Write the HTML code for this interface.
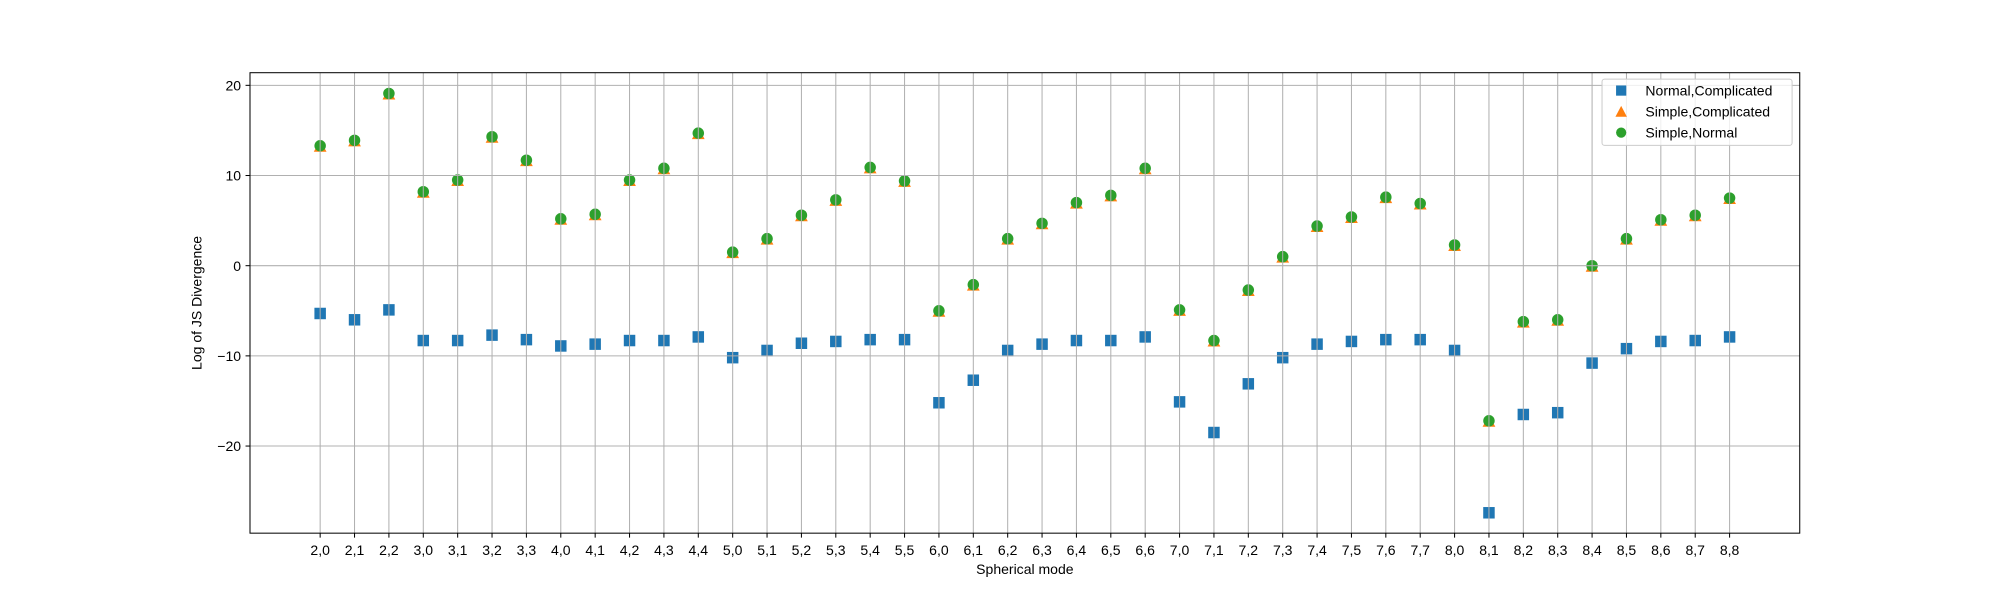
<!DOCTYPE html>
<html><head><meta charset="utf-8"><style>
html,body{margin:0;padding:0;background:#fff;}
svg{display:block;font-family:"Liberation Sans","DejaVu Sans",sans-serif;}
</style></head><body>
<svg id="chart" width="2000" height="600" viewBox="0 0 1568 470.4" preserveAspectRatio="none"></svg>
<script>
const categories=["2,0","2,1","2,2","3,0","3,1","3,2","3,3","4,0","4,1","4,2","4,3","4,4","5,0","5,1","5,2","5,3","5,4","5,5","6,0","6,1","6,2","6,3","6,4","6,5","6,6","7,0","7,1","7,2","7,3","7,4","7,5","7,6","7,7","8,0","8,1","8,2","8,3","8,4","8,5","8,6","8,7","8,8"];
const normalComplicated=[-5.3,-6.0,-4.9,-8.3,-8.3,-7.7,-8.2,-8.9,-8.7,-8.3,-8.3,-7.9,-10.2,-9.4,-8.6,-8.4,-8.2,-8.2,-15.2,-12.7,-9.4,-8.7,-8.3,-8.3,-7.9,-15.1,-18.5,-13.1,-10.2,-8.7,-8.4,-8.2,-8.2,-9.4,-27.4,-16.5,-16.3,-10.8,-9.2,-8.4,-8.3,-7.9];
const simpleComplicated=[13.2,13.8,19.0,8.1,9.4,14.2,11.6,5.1,5.6,9.4,10.7,14.6,1.4,2.9,5.5,7.2,10.8,9.3,-5.1,-2.2,2.9,4.6,6.9,7.7,10.7,-5.0,-8.4,-2.8,0.9,4.3,5.3,7.5,6.8,2.2,-17.3,-6.3,-6.1,-0.1,2.9,5.0,5.5,7.4];
const simpleNormal=[13.3,13.9,19.1,8.2,9.5,14.3,11.7,5.2,5.7,9.5,10.8,14.7,1.5,3.0,5.6,7.3,10.9,9.4,-5.0,-2.1,3.0,4.7,7.0,7.8,10.8,-4.9,-8.3,-2.7,1.0,4.4,5.4,7.6,6.9,2.3,-17.2,-6.2,-6.0,0.0,3.0,5.1,5.6,7.5];
const yTicks=[20,10,0,-10,-20];
const yTickLabels=["20","10","0","\u221210","\u221220"];

const NS="http://www.w3.org/2000/svg";
const svg=document.getElementById('chart');
const L=196,R=1411,T=57,B=418;
const yMin=-29.66,yMax=21.4;
const x0=251,x1=1356;
function xs(i){return x0+(x1-x0)*i/(categories.length-1);}
function ys(v){return B-(v-yMin)/(yMax-yMin)*(B-T);}
function el(tag,attrs,parent){const e=document.createElementNS(NS,tag);for(const k in attrs)e.setAttribute(k,attrs[k]);(parent||svg).appendChild(e);return e;}

const gBlue=el('g',{});


normalComplicated.forEach((v,i)=>{
  const r=el('rect',{x:xs(i)-4.5,y:ys(v)-4.5,width:9,height:9,fill:'#1f77b4'},gBlue);
  
  
});
const gOr=el('g',{});


simpleComplicated.forEach((v,i)=>{
  const cx=xs(i),cy=ys(v);
  const p=el('polygon',{points:`${cx},${cy-5} ${cx-5},${cy+4} ${cx+5},${cy+4}`,fill:'#ff7f0e'},gOr);
  
  
});
const gGr=el('g',{});


simpleNormal.forEach((v,i)=>{
  const c=el('circle',{cx:xs(i),cy:ys(v),r:4.5,fill:'#2ca02c'},gGr);
  
  
});

const grid=el('g',{stroke:'#b0b0b0','stroke-width':0.8});


categories.forEach((c,i)=>{el('line',{x1:xs(i),x2:xs(i),y1:T,y2:B},grid);});
yTicks.forEach(v=>{el('line',{x1:L,x2:R,y1:ys(v),y2:ys(v)},grid);});

const frame=el('rect',{x:L,y:T,width:R-L,height:B-T,fill:'none',stroke:'#000','stroke-width':0.8});



const xt=el('g',{});


categories.forEach((c,i)=>{
  el('line',{x1:xs(i),x2:xs(i),y1:B,y2:B+3.5,stroke:'#000','stroke-width':0.8},xt);
  const t=el('text',{x:xs(i),y:B+17,'text-anchor':'middle','font-size':11,fill:'#000'},xt);
  t.textContent=c;
  
  
});
const xl=el('text',{x:(L+R)/2,y:450,'text-anchor':'middle','font-size':11},svg);
xl.textContent='Spherical mode';



const yt=el('g',{});


yTicks.forEach((v,i)=>{
  el('line',{x1:L-3.5,x2:L,y1:ys(v),y2:ys(v),stroke:'#000','stroke-width':0.8},yt);
  const t=el('text',{x:L-7,y:ys(v)+4,'text-anchor':'end','font-size':11},yt);
  t.textContent=yTickLabels[i];
  
  
});
const yl=el('text',{x:158,y:(T+B)/2,'text-anchor':'middle','font-size':11,transform:`rotate(-90 158 ${(T+B)/2})`},svg);
yl.textContent='Log of JS Divergence';



const lg=el('g',{});


el('rect',{x:1256,y:62,width:149,height:52,rx:2,fill:'#fff','fill-opacity':0.8,stroke:'#ccc','stroke-width':0.8},lg);
const entries=[['Normal,Complicated','sq','#1f77b4'],['Simple,Complicated','tri','#ff7f0e'],['Simple,Normal','ci','#2ca02c']];
entries.forEach((e,i)=>{
  const cy=71+i*16.5,cx=1271;
  const g=el('g',{},lg);
  
  
  if(e[1]=='sq')el('rect',{x:cx-4,y:cy-4,width:8,height:8,fill:e[2]},g);
  else if(e[1]=='tri')el('polygon',{points:`${cx},${cy-4.5} ${cx-4.5},${cy+4} ${cx+4.5},${cy+4}`,fill:e[2]},g);
  else el('circle',{cx:cx,cy:cy,r:4,fill:e[2]},g);
  const t=el('text',{x:1290,y:cy+4,'font-size':11},g);
  t.textContent=e[0];
});
</script>
</body></html>
